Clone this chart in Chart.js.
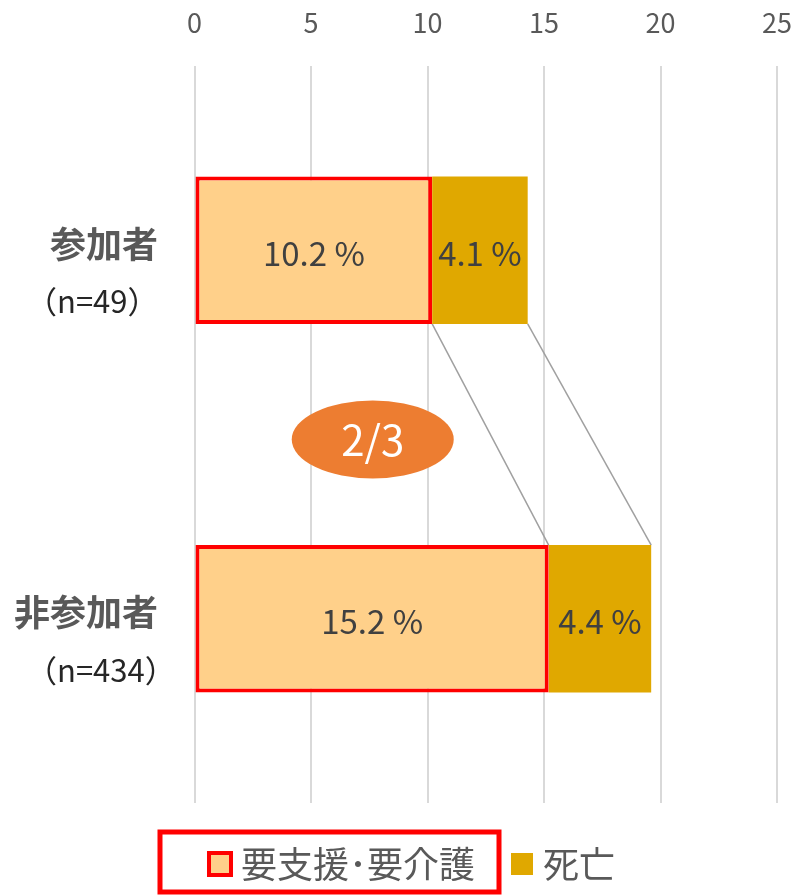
<!DOCTYPE html>
<html lang="ja">
<head>
<meta charset="utf-8">
<title>参加者・非参加者の転帰</title>
<script src="https://cdn.jsdelivr.net/npm/chart.js@4.4.1/dist/chart.umd.min.js"></script>
<style>
  html, body { margin: 0; padding: 0; background: #fff; }
</style>
</head>
<body>
<canvas id="chartOutcome" width="796" height="895"></canvas>
<script>
// categories and values
const categories = ['参加者', '非参加者'];
const sampleSizes = ['（n=49）', '（n=434）'];
const seriesNames = ['要支援･要介護', '死亡'];
const careNeeded = [10.2, 15.2];
const deceased = [4.1, 4.4];
const xMin = 0;
const xMax = 25;
const xStep = 5;
const ratioText = '2/3';
const ratioAt = 7.65; // x value where the badge sits

const FONT = '"Noto Sans CJK JP", "Noto Sans", sans-serif';
const PEACH = '#FFD08A';
const GOLD = '#E0A800';
const RED = '#FF0000';
const GREY = '#595959';

Chart.defaults.font.family = FONT;

const canvas = document.getElementById('chartOutcome');
const ctx = canvas.getContext('2d');

// gray lines joining the stack ends of the two bars
const connectors = {
    id: 'connectors',
    beforeDatasetsDraw(chart) {
        const c = chart.ctx;
        c.save();
        c.strokeStyle = '#A0A0A0';
        c.lineWidth = 1.5;
        chart.data.datasets.forEach((ds, i) => {
            const bars = chart.getDatasetMeta(i).data;
            const top = bars[0];
            const bottom = bars[1];
            c.beginPath();
            c.moveTo(top.x, top.y + top.height / 2);
            c.lineTo(bottom.x, bottom.y - bottom.height / 2);
            c.stroke();
        });
        c.restore();
    }
};

// value labels, the orange badge, category labels and the legend
const decorations = {
    id: 'decorations',
    afterDatasetsDraw(chart) {
        const c = chart.ctx;
        const xs = chart.scales.x;
        const ys = chart.scales.y;

        c.save();
        c.font = `33px ${FONT}`;
        c.fillStyle = '#404040';
        c.textAlign = 'center';
        c.textBaseline = 'middle';
        chart.data.datasets.forEach((ds, i) => {
            chart.getDatasetMeta(i).data.forEach((bar, j) => {
                const cx = (bar.x + bar.base) / 2;
                c.fillText(ds.data[j].toFixed(1) + ' %', cx, bar.y + 3);
            });
        });

        // badge between the two bars
        const bx = xs.getPixelForValue(ratioAt);
        const by = (ys.getPixelForValue(0) + ys.getPixelForValue(1)) / 2 + 5;
        c.fillStyle = '#ED7D31';
        c.beginPath();
        c.ellipse(bx, by, 81, 39, 0, 0, Math.PI * 2);
        c.fill();
        c.fillStyle = '#FFFFFF';
        c.font = `42px ${FONT}`;
        c.fillText(ratioText, bx, by + 1);
        c.restore();
    },
    afterDraw(chart) {
        const c = chart.ctx;
        const ys = chart.scales.y;
        c.save();
        c.textBaseline = 'middle';
        categories.forEach((cat, i) => {
            const y = ys.getPixelForValue(i);
            c.font = `bold 36px ${FONT}`;
            c.fillStyle = GREY;
            c.textAlign = 'right';
            c.fillText(cat, 158, y - 6);
            c.font = `31px ${FONT}`;
            c.fillStyle = '#262626';
            c.textAlign = 'left';
            c.fillText(sampleSizes[i], 26, y + 51);
        });

        // legend
        const ly = 864;
        const box = 22;
        c.font = `36px ${FONT}`;
        const w1 = c.measureText(seriesNames[0]).width;
        const w2 = c.measureText(seriesNames[1]).width;
        const total = box + 10 + w1 + 36 + box + 10 + w2;
        let x = chart.width / 2 + 14 - total / 2;
        const box1 = x;

        c.fillStyle = PEACH;
        c.fillRect(x, ly - box / 2, box, box);
        c.strokeStyle = RED;
        c.lineWidth = 4;
        c.strokeRect(x, ly - box / 2, box, box);
        c.fillStyle = GREY;
        c.textAlign = 'left';
        c.fillText(seriesNames[0], x + box + 10, ly);
        const end1 = x + box + 10 + w1;

        x = end1 + 36;
        c.fillStyle = GOLD;
        c.fillRect(x, ly - box / 2, box, box);
        c.fillStyle = GREY;
        c.fillText(seriesNames[1], x + box + 10, ly);

        // red frame around the first legend item
        c.strokeStyle = RED;
        c.lineWidth = 5;
        c.strokeRect(box1 - 49, ly - 32, end1 + 24 - (box1 - 49), 60);
        c.restore();
    }
};

const data = {
    labels: categories,
    datasets: [{
        label: seriesNames[0],
        data: careNeeded,
        backgroundColor: PEACH,
        borderColor: RED,
        borderWidth: 4,
        borderSkipped: false
    }, {
        label: seriesNames[1],
        data: deceased,
        backgroundColor: GOLD,
        borderWidth: 0
    }]
};

const chartOutcome = new Chart(ctx, {
    type: 'bar',
    data: data,
    options: {
        indexAxis: 'y',
        responsive: false,
        animation: false,
        barPercentage: 0.4,
        categoryPercentage: 1,
        layout: { padding: { left: 0, right: 19, top: 0, bottom: 92 } },
        plugins: {
            legend: { display: false },
            tooltip: { enabled: false }
        },
        scales: {
            x: {
                position: 'top',
                stacked: true,
                min: xMin,
                max: xMax,
                ticks: {
                    stepSize: xStep,
                    color: GREY,
                    font: { size: 27 },
                    padding: 27
                },
                grid: { color: '#D9D9D9', lineWidth: 2, drawTicks: false },
                border: { display: false },
                afterFit: (scale) => {
                    scale.height = 66;
                    scale.paddingLeft = 0;
                    scale.paddingRight = 0;
                }
            },
            y: {
                stacked: true,
                ticks: { display: false },
                grid: { display: false },
                border: { display: false },
                afterFit: (scale) => { scale.width = 194.5; }
            }
        }
    },
    plugins: [connectors, decorations]
});
</script>
</body>
</html>
